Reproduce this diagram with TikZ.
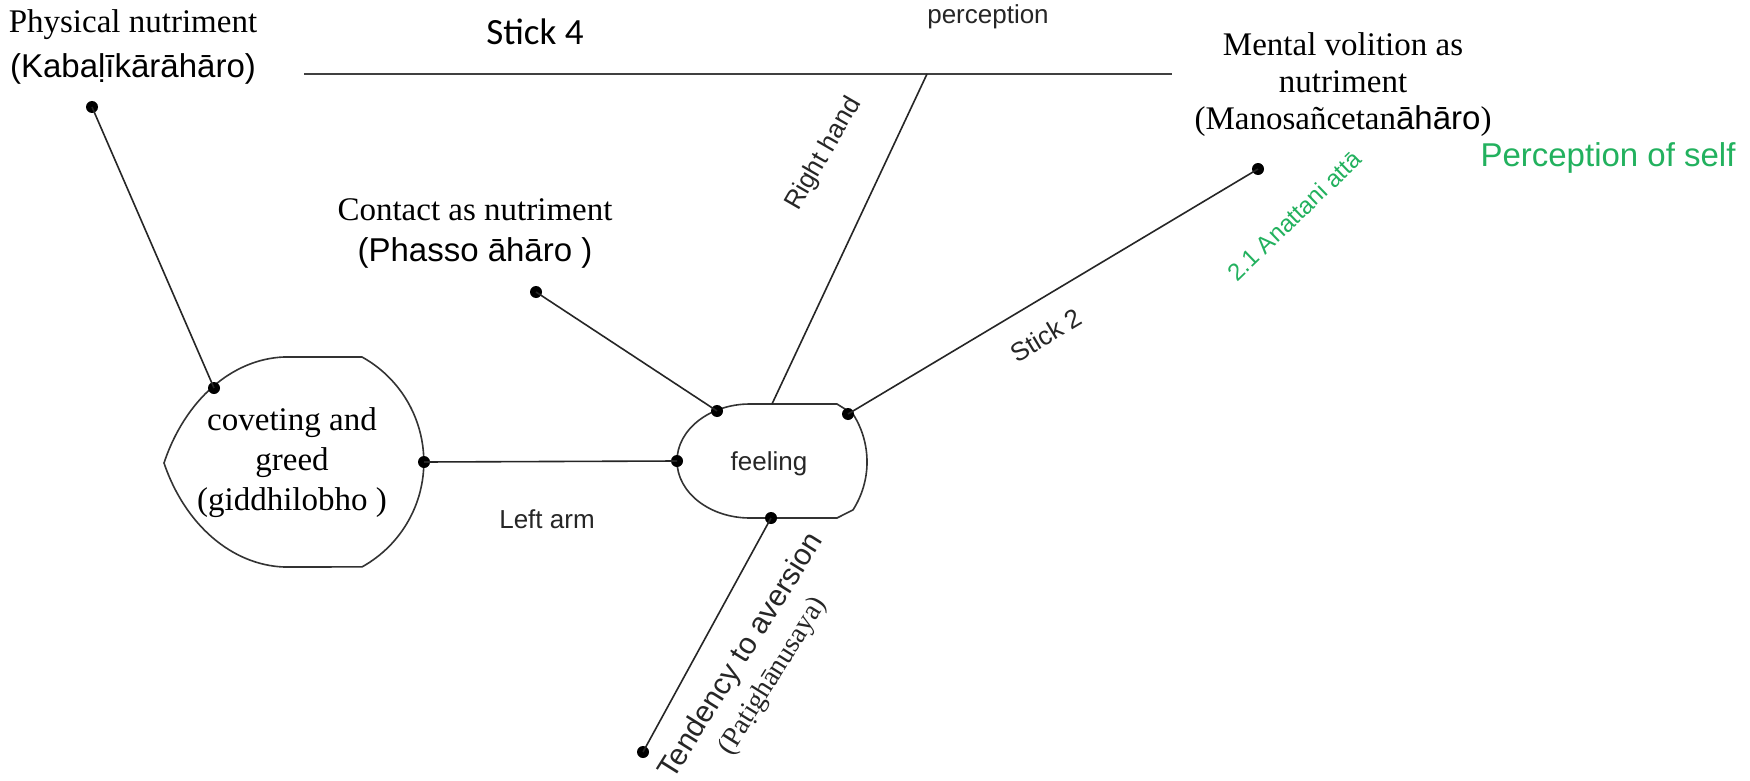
\documentclass[tikz,border=0pt]{standalone}
\usepackage{fontspec}
\setmainfont{Liberation Serif}
\newfontfamily\sanslbl{Liberation Sans}
\newfontfamily\calib{Carlito}
\definecolor{lblgreen}{RGB}{34,177,94}
\begin{document}
\begin{tikzpicture}[x=1pt,y=-1pt]
\tikzset{
  dotnode/.style={circle, fill=black, inner sep=0pt, minimum size=12pt},
  conn/.style={draw=black!85, line width=1.6pt},
  topline/.style={draw=black!75, line width=2.2pt},
  shapeline/.style={draw=black!80, line width=1.6pt},
  serifbig/.style={font=\fontsize{33}{37}\selectfont, inner sep=0pt, align=center},
  sanssmall/.style={font=\sanslbl\fontsize{26}{30}\selectfont, inner sep=0pt, text=black!85},
  greenlbl/.style={font=\sanslbl\fontsize{33}{37}\selectfont, inner sep=0pt, text=lblgreen},
}
\useasboundingbox (0,0) rectangle (1750,781);
\fill[white] (0,0) rectangle (1750,781);

% ---- shapes ----
% coveting and greed
\draw[shapeline] (284,357) -- (362,357)
  arc[start angle=-61, end angle=61, radius=120]
  -- (284,567)
  .. controls (232,565) and (185,525) .. (164,463)
  .. controls (185,400) and (232,359) .. cycle;
% feeling
\draw[shapeline] (750,404) -- (837,404) -- (853,414)
  arc[start angle=-32.6, end angle=32.6, radius=89]
  -- (837,518) -- (750,518)
  arc[start angle=90, end angle=270, x radius=73, y radius=57] -- cycle;

% ---- texts ----
\node[serifbig, font=\fontsize{33}{45}\selectfont] (tphys) at (133,47)
  {Physical nutriment\\{\sanslbl (Kabaḷīkārāhāro)}};
\node[inner sep=0pt, font=\calib\fontsize{37}{40}\selectfont] (tstick4) at (535,32) {Stick 4};
\node[sanssmall] (tperc) at (988,17) {perception};
\node[serifbig] (tmental) at (1343,85)
  {Mental volition as\\nutriment\\(Manosañcetan{\sanslbl āhāro})};
\node[greenlbl] (tself) at (1608,158) {Perception of self};
\node[greenlbl, font=\sanslbl\fontsize{24}{28}\selectfont, rotate=44] (tanatta) at (1294,216) {2.1 Anattani attā};
\node[sanssmall, font=\sanslbl\fontsize{26}{30}\selectfont, rotate=60] (tright) at (824,154) {Right hand};
\node[serifbig, font=\fontsize{33}{41}\selectfont] (tcontact) at (475,233)
  {Contact as nutriment\\{\sanslbl (Phasso āhāro )}};
\node[sanssmall, font=\sanslbl\fontsize{26}{28}\selectfont, rotate=31] (tstick2) at (1046,335) {Stick 2};
\node[serifbig, font=\fontsize{33}{40}\selectfont] (tcovet) at (292,463)
  {coveting and\\greed\\(giddhilobho )};
\node[sanssmall] (tfeel) at (769,464) {feeling};
\node[sanssmall] (tleft) at (547,519) {Left arm};
\node[inner sep=0pt, align=center, rotate=58, font=\fontsize{28}{36}\selectfont, text=black!85] (ttend) at (757,666)
  {{\sanslbl\fontsize{30}{36}\selectfont Tendency to aversion}\\(Paṭighānusaya)};

% ---- coordinates ----
\coordinate (hl) at (304,74);
\coordinate (hr) at (1172,74);
\coordinate (rhtop) at (927,74);
\coordinate (ftop) at (772,404);

% ---- dots ----
\node[dotnode] (dphys) at (92,107) {};
\node[dotnode] (dcov1) at (214,388) {};
\node[dotnode] (dcov2) at (424,462) {};
\node[dotnode] (dcontact) at (536,292) {};
\node[dotnode] (dfeelul) at (717,411) {};
\node[dotnode] (dfeell) at (677,461) {};
\node[dotnode] (dfeelr) at (848,414) {};
\node[dotnode] (dfeelb) at (771,518) {};
\node[dotnode] (dmental) at (1258,169) {};
\node[dotnode] (dtend) at (643,752) {};

% ---- connectors ----
\draw[topline] (hl) -- (hr);
\draw[conn] (dphys.center) -- (dcov1.center);
\draw[conn] (dcontact.center) -- (dfeelul.center);
\draw[conn] (dcov2.center) -- (dfeell.center);
\draw[conn] (rhtop) -- (ftop);
\draw[conn] (dfeelr.center) -- (dmental.center);
\draw[conn] (dfeelb.center) -- (dtend.center);
\end{tikzpicture}
\end{document}
